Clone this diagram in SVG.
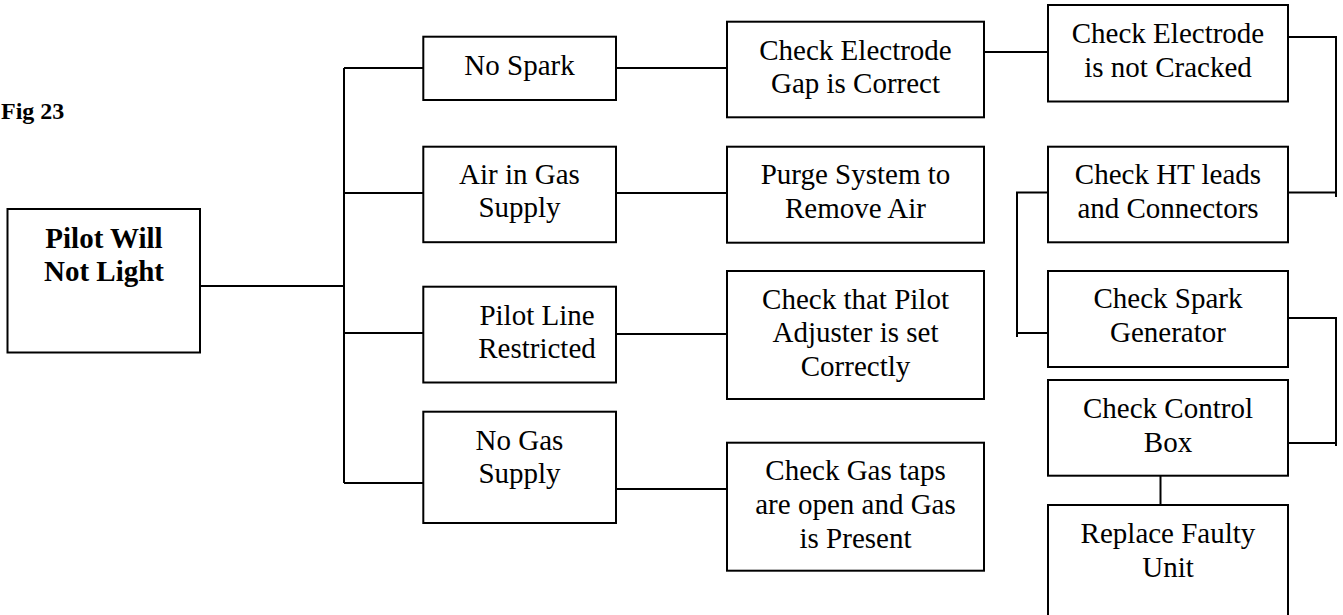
<svg xmlns="http://www.w3.org/2000/svg" width="1343" height="615" viewBox="0 0 1343 615">
<style>
.box{fill:#fff;stroke:#000;stroke-width:2}
.ln{fill:none;stroke:#000;stroke-width:2}
text{font-family:"Liberation Serif","Times New Roman",serif;font-size:29px;fill:#000;text-anchor:middle}
.b{font-weight:bold}
</style>
<rect width="1343" height="615" fill="#fff"/>
<text class="b" x="1" y="119" style="text-anchor:start;font-size:24px">Fig 23</text>
<g id="connectors">
<path class="ln" d="M200,286 H344 M344,68 V483 M344,68 H423 M344,193 H423 M344,333 H423 M344,483 H423"/>
<path class="ln" d="M616,68 H727 M616,193 H727 M616,334 H727 M616,489 H727"/>
<path class="ln" d="M984,52 H1048"/>
<path class="ln" d="M1288,37 H1336 V197 M1288,192.5 H1336"/>
<path class="ln" d="M1048,192.5 H1017 V337 M1017,333 H1048"/>
<path class="ln" d="M1288,318 H1336 V446 M1288,443 H1336"/>
<path class="ln" d="M1160.5,473 V505"/>
</g>
<g id="n-pilot"><rect class="box" x="7.5" y="209" width="192.5" height="143.5"/><text class="b" x="104" y="248">Pilot Will</text><text class="b" x="104" y="281">Not Light</text></g>
<g id="n-nospark"><rect class="box" x="423.3" y="36.7" width="192.7" height="63.3"/><text x="519.5" y="74.5">No Spark</text></g>
<g id="n-air"><rect class="box" x="423.3" y="146.7" width="192.7" height="95.5"/><text x="519.5" y="184">Air in Gas</text><text x="519.5" y="217">Supply</text></g>
<g id="n-pilotline"><rect class="box" x="423.3" y="286.7" width="192.7" height="95.8"/><text x="537" y="325">Pilot Line</text><text x="537" y="358">Restricted</text></g>
<g id="n-nogas"><rect class="box" x="423.3" y="411.7" width="192.7" height="111.3"/><text x="519.5" y="450">No Gas</text><text x="519.5" y="483">Supply</text></g>
<g id="n-gap"><rect class="box" x="727" y="21.7" width="257" height="95.6"/><text x="855.5" y="60">Check Electrode</text><text x="855.5" y="93">Gap is Correct</text></g>
<g id="n-purge"><rect class="box" x="727" y="146.7" width="257" height="96"/><text x="855.5" y="184">Purge System to</text><text x="855.5" y="218">Remove Air</text></g>
<g id="n-adjuster"><rect class="box" x="727" y="271" width="257" height="128"/><text x="855.5" y="309">Check that Pilot</text><text x="855.5" y="342">Adjuster is set</text><text x="855.5" y="376">Correctly</text></g>
<g id="n-gastaps"><rect class="box" x="727" y="442.7" width="257" height="128"/><text x="855.5" y="480">Check Gas taps</text><text x="855.5" y="514">are open and Gas</text><text x="855.5" y="548">is Present</text></g>
<g id="n-cracked"><rect class="box" x="1048" y="5" width="240" height="96.5"/><text x="1168" y="43">Check Electrode</text><text x="1168" y="77">is not Cracked</text></g>
<g id="n-ht"><rect class="box" x="1048" y="146.7" width="240" height="95.6"/><text x="1168" y="184">Check HT leads</text><text x="1168" y="218">and Connectors</text></g>
<g id="n-sparkgen"><rect class="box" x="1048" y="271" width="240" height="96"/><text x="1168" y="308">Check Spark</text><text x="1168" y="342">Generator</text></g>
<g id="n-control"><rect class="box" x="1048" y="380" width="240" height="95.7"/><text x="1168" y="418">Check Control</text><text x="1168" y="452">Box</text></g>
<g id="n-replace"><path class="box" d="M1048,620 V505 H1288 V620"/><text x="1168" y="543">Replace Faulty</text><text x="1168" y="577">Unit</text></g>
</svg>
